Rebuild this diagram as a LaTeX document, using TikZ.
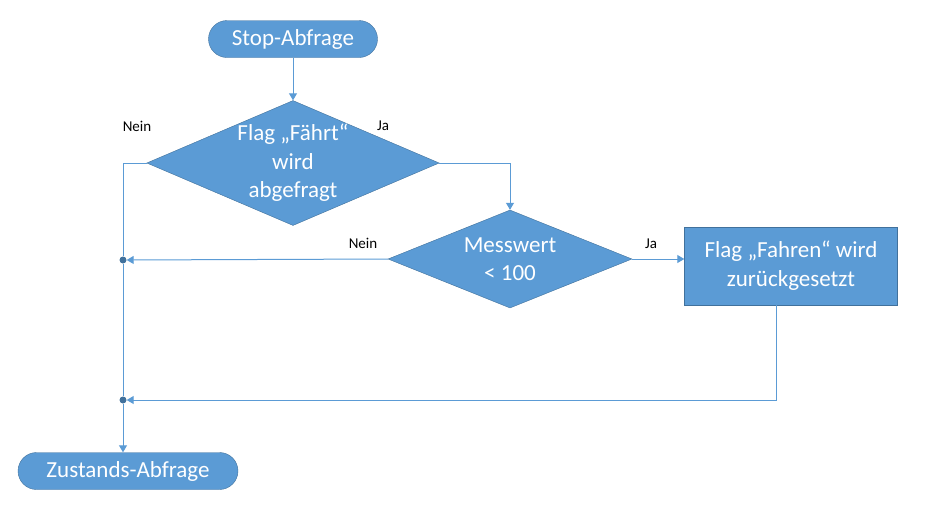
\documentclass[tikz,border=0pt]{standalone}
\usepackage{fontspec}
\setmainfont{Carlito}
\usepackage{tikz}
\usetikzlibrary{positioning, shapes.geometric, arrows.meta}

\definecolor{officeblue}{HTML}{5B9BD5}
\definecolor{officeedge}{HTML}{41719C}

\begin{document}
\begin{tikzpicture}[x=1pt, y=-1pt,
        terminal/.style={draw=officeedge, fill=officeblue, text=white, rounded corners=18.5pt,
            minimum width=169pt, minimum height=37pt, font=\fontsize{23}{28}\selectfont},
        decision/.style={diamond, draw=officeedge, fill=officeblue, text=white, inner sep=0pt,
            align=center, font=\fontsize{23}{28.5}\selectfont},
        process/.style={draw=officeedge, fill=officeblue, text=white, align=center,
            minimum width=213pt, minimum height=78pt, font=\fontsize{23}{29}\selectfont},
        junction/.style={circle, fill=officeedge, inner sep=0pt, minimum size=7pt},
        answer/.style={font=\fontsize{15}{17}\selectfont},
        flow/.style={officeblue, line width=1pt},
        ->/.style={flow, -{Triangle[length=7pt, width=8pt]}}]
    \useasboundingbox (0,0) rectangle (931,515);

    \node [terminal] (start) at (293, 39) {Stop-Abfrage};
    \node [decision, minimum width=290pt, minimum height=124pt, aspect=2.34] (fahrt) at (293, 163)
        {Flag „Fährt“\\wird\\abgefragt};
    \node [decision, minimum width=244pt, minimum height=98pt, aspect=2.49] (mess) at (510, 259)
        {Messwert\\< 100};
    \node [process] (reset) at (791, 266) {Flag „Fahren“ wird\\zurückgesetzt};
    \node [terminal, minimum width=220pt] (ende) at (128, 471) {Zustands-Abfrage};

    \node [junction] (j1) at (123, 260) {};
    \node [junction] (j2) at (123, 400) {};

    \node [answer] (neinA) at (137, 126) {Nein};
    \node [answer] (jaA) at (383, 126) {Ja};
    \node [answer] (neinB) at (363, 243) {Nein};
    \node [answer] (jaB) at (651, 244) {Ja};

    \draw [->] (start) -- (fahrt);
    \draw [->] (fahrt.east) -| (mess.north);
    \draw [flow] (fahrt.west) -| (j1);
    \draw [flow] (j1) -- (j2);
    \draw [->] (mess.west) -- (j1);
    \draw [->] (mess.east) -- (mess.east -| reset.west);
    \draw [->] ([xshift=-15pt]reset.south) |- (j2);
    \draw [->] (j2) -- (j2 |- ende.north);
\end{tikzpicture}
\end{document}
